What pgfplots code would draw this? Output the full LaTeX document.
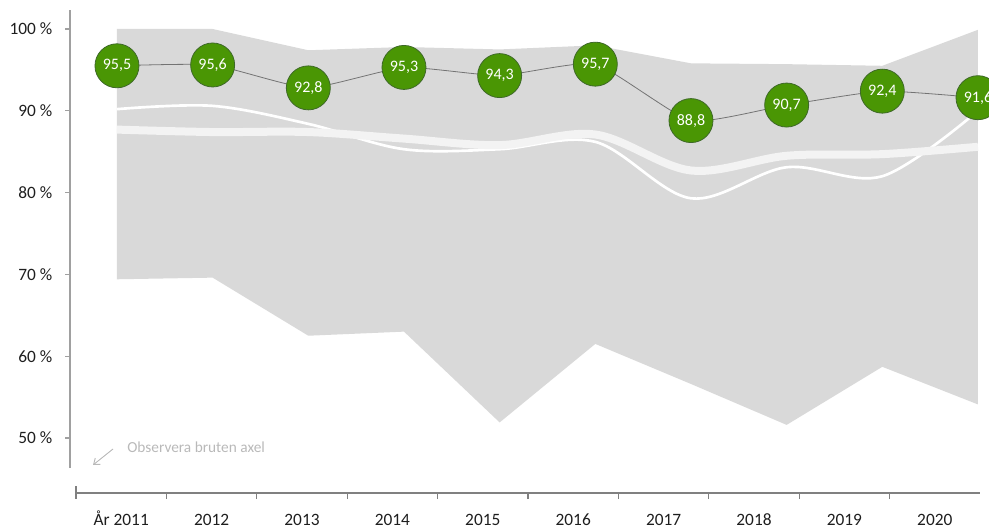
\documentclass[border=0pt]{standalone}
\usepackage{pgfplots}
\pgfplotsset{compat=1.18}
\usepgfplotslibrary{fillbetween}
\usetikzlibrary{arrows.meta}
\usepackage{fontspec}
\setmainfont{Carlito}
\definecolor{areagrey}{RGB}{217,217,217}
\definecolor{thickwhite}{RGB}{243,243,243}
\definecolor{greenfill}{RGB}{74,150,4}
\definecolor{greenedge}{RGB}{62,105,40}
\definecolor{axisgrey}{RGB}{160,160,160}
\definecolor{xaxisgrey}{RGB}{128,128,128}
\definecolor{textdark}{RGB}{30,30,30}
\definecolor{notegrey}{RGB}{185,185,185}
\definecolor{linkgrey}{RGB}{115,115,115}
\begin{document}
\begin{tikzpicture}
% main chart
\begin{axis}[
  at={(52.5pt,45.75pt)}, anchor=south west,
  width=682.5pt, height=343.5pt, scale only axis,
  xmin=2010.509, xmax=2020.021,
  ymin=46.33, ymax=102.32,
  axis x line=none,
  axis y line*=left,
  y axis line style={draw=axisgrey, line width=0.8pt},
  ytick={50,60,70,80,90,100},
  yticklabels={50 \%, 60 \%, 70 \%, 80 \%, 90 \%, 100 \%},
  tick align=outside, major tick length=3.75pt,
  ytick style={draw=axisgrey, line width=0.8pt},
  yticklabel style={font=\fontsize{13}{15}\selectfont, text=textdark, xshift=-6pt},
  clip=false,
]
\addplot[name path=up, draw=none] coordinates {
 (2011,100) (2012,100) (2013,97.4) (2014,97.8) (2015,97.5)
 (2016,98.0) (2017,95.8) (2018,95.7) (2019,95.5) (2020,99.9)};
\addplot[name path=lo, draw=none] coordinates {
 (2011,69.4) (2012,69.6) (2013,62.5) (2014,63.0) (2015,51.9)
 (2016,61.5) (2017,56.6) (2018,51.6) (2019,58.7) (2020,54.1)};
\addplot[fill=areagrey, draw=none] fill between[of=up and lo];
% thin white line
\addplot[white, line width=2pt, smooth, tension=0.55] coordinates {
 (2011,90.2) (2012,90.6) (2013,88.4) (2014,85.3) (2015,85.3)
 (2016,86.2) (2017,79.3) (2018,83.1) (2019,82.0) (2020,90.0)};
% thick white line
\addplot[thickwhite, line width=6pt, smooth, tension=0.55] coordinates {
 (2011,87.7) (2012,87.4) (2013,87.4) (2014,86.6) (2015,85.8)
 (2016,87.1) (2017,82.7) (2018,84.5) (2019,84.7) (2020,85.6)};
% results
\addplot[linkgrey, line width=0.6pt, smooth, tension=0.3,
  mark=*, mark size=16.5pt,
  mark options={fill=greenfill, draw=greenedge, line width=0.6pt},
  point meta=explicit symbolic,
  nodes near coords, nodes near coords align={center},
  every node near coord/.append style={anchor=center, text=white,
    font=\fontsize{12}{14}\selectfont}]
 coordinates {
 (2011,95.5) [95,5] (2012,95.6) [95,6] (2013,92.8) [92,8]
 (2014,95.3) [95,3] (2015,94.3) [94,3] (2016,95.7) [95,7]
 (2017,88.8) [88,8] (2018,90.7) [90,7] (2019,92.4) [92,4]
 (2020,91.6) [91,6]};
\end{axis}
% category axis
\begin{axis}[
  at={(57pt,27pt)}, anchor=south west,
  width=678pt, height=10pt, scale only axis,
  xmin=0, xmax=10, ymin=0, ymax=1,
  axis y line=none, axis x line*=bottom,
  x axis line style={draw=xaxisgrey, line width=1.1pt},
  xtick={1,...,9}, xticklabels={},
  tick align=outside, major tick length=4.5pt,
  xtick style={draw=xaxisgrey, line width=0.8pt},
  extra x ticks={0.5,1.5,...,9.5},
  extra x tick labels={År 2011,2012,2013,2014,2015,2016,2017,2018,2019,2020},
  extra x tick style={major tick length=0pt,
    xticklabel style={font=\fontsize{13}{15}\selectfont, text=textdark,
      anchor=north, text height=8.5pt, text depth=1pt, yshift=-12.5pt}},
  clip=false,
]
\addplot[draw=none] coordinates {(0,0) (10,0)};
\draw[xaxisgrey, line width=0.8pt] (axis cs:0,0) ++(0,5pt) -- ++(0,-9.5pt);
\end{axis}
% note
\draw[notegrey, line width=0.7pt, -{Straight Barb[length=4pt,width=6pt]}] (84.75pt,60pt) -- (69.75pt,48pt);
\node[anchor=west, text=notegrey, font=\fontsize{11.5}{13}\selectfont, inner sep=0pt] at (95.25pt,61pt) {Observera bruten axel};
\pgfresetboundingbox
\path[use as bounding box] (0,0) rectangle (741.75pt,396.75pt);
\end{tikzpicture}
\end{document}
